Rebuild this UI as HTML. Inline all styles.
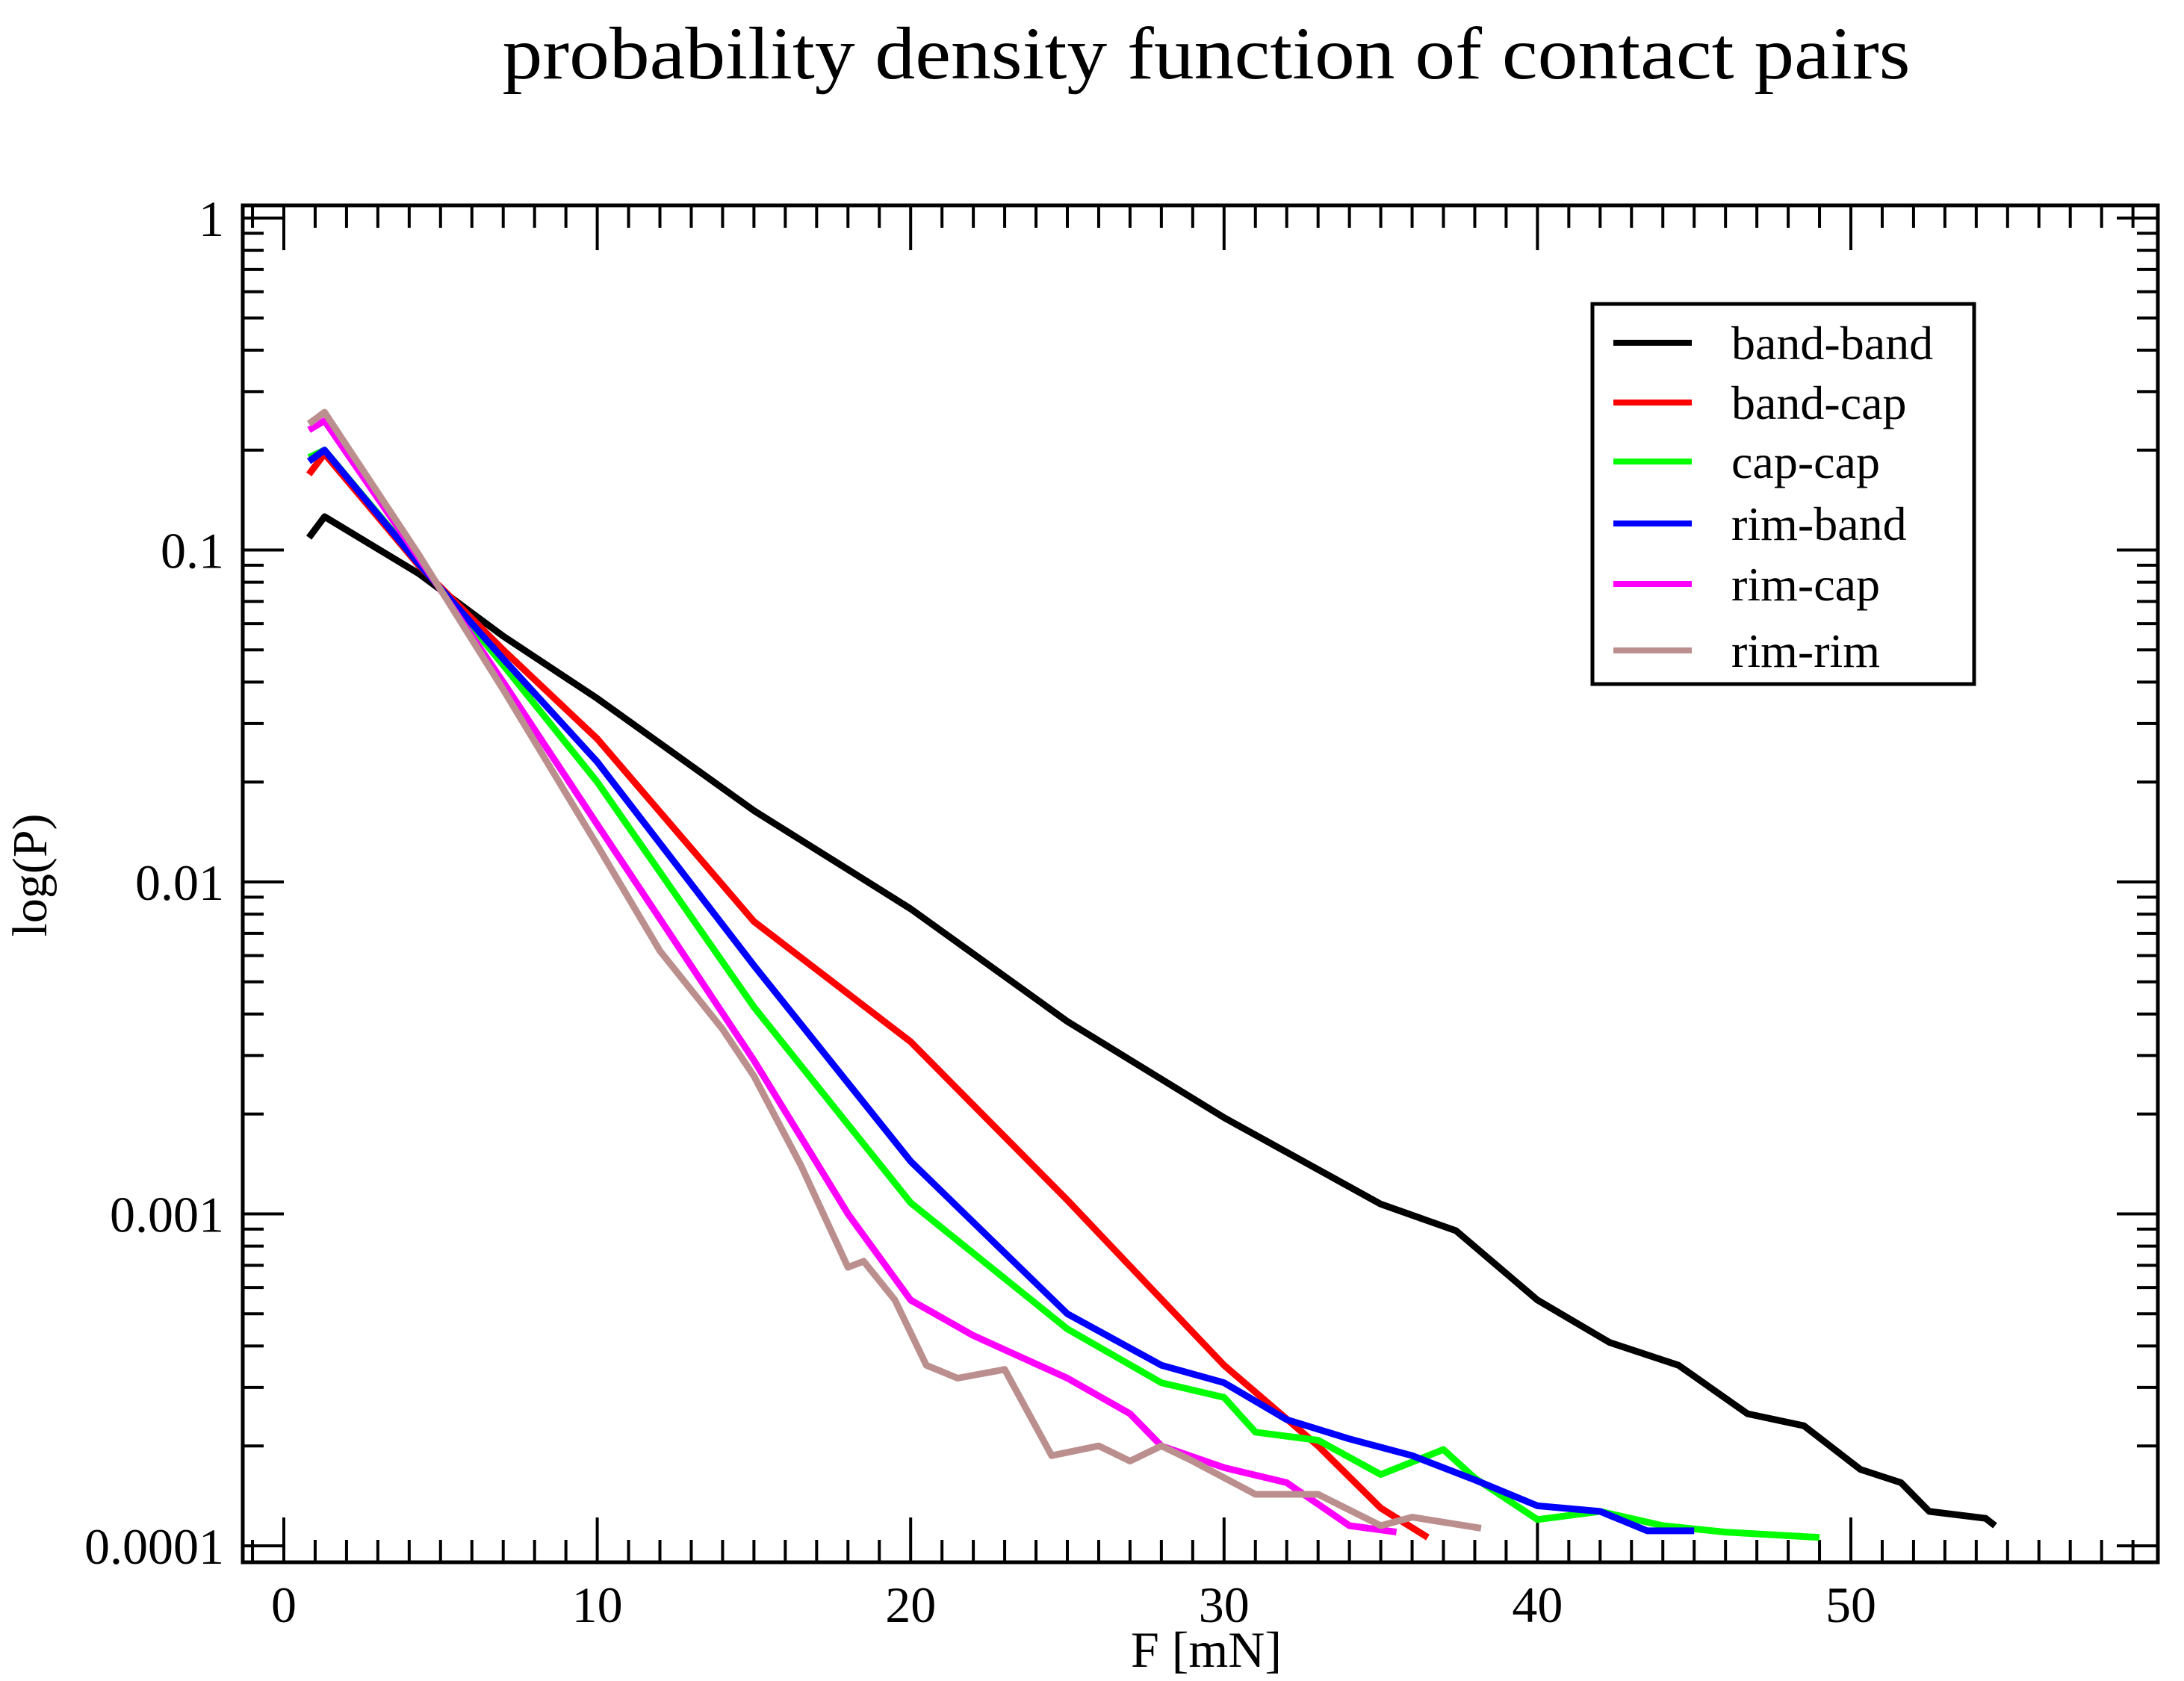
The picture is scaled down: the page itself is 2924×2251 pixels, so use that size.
<!DOCTYPE html>
<html><head><meta charset="utf-8"><style>
html,body{margin:0;padding:0;background:#fff;}
svg{display:block;}
text{font-family:"Liberation Serif",serif;}
</style></head><body>
<svg id="chart" width="2924" height="2251" viewBox="0 0 2924 2251" xmlns="http://www.w3.org/2000/svg">
<rect width="2924" height="2251" fill="#fff"/>
<text x="1615" y="105" font-size="100" text-anchor="middle" textLength="1885" lengthAdjust="spacingAndGlyphs">probability density function of contact pairs</text>
<g id="ticks"></g>
<g id="series"></g>
<rect x="325" y="275" width="2564" height="1817" fill="none" stroke="#000" stroke-width="5"/>
<text x="1615" y="2232" font-size="68" text-anchor="middle">F [mN]</text>
<text transform="translate(62,1172) rotate(-90)" font-size="66" text-anchor="middle">log(P)</text>
<g>
<rect x="2132" y="407" width="511" height="509" fill="#fff" stroke="#000" stroke-width="5"/>
<g id="legend-entries"></g>
</g>
</svg>
<script>
const xTicks=[0,10,20,30,40,50];
const yTicks=[1,0.1,0.01,0.001,0.0001];
const yTickLabels=["1","0.1","0.01","0.001","0.0001"];
const seriesNames=["band-band","band-cap","cap-cap","rim-band","rim-cap","rim-rim"];
const seriesColors=["#000000","#ff0000","#00ff00","#0000ff","#ff00ff","#bc8f8f"];
const xBandBand=[0.8,1.3,4.3,7,10,15,20,25,30,35,37.4,40,42.3,44.5,46.7,48.5,50.3,51.6,52.5,54.3,54.6];
const pBandBand=[0.109,0.126,0.085,0.055,0.0357,0.0164,0.0083,0.0038,0.00195,0.00107,0.00089,0.00055,0.00041,0.00035,0.00025,0.00023,0.00017,0.000155,0.000127,0.000121,0.000115];
const xBandCap=[0.8,1.3,4.3,7,10,15,20,25,30,33,35,36.5];
const pBandCap=[0.169,0.195,0.09,0.05,0.027,0.0076,0.0033,0.0011,0.00035,0.0002,0.00013,0.000106];
const xCapCap=[0.8,1.3,4.3,7,10,15,20,25,28,30,31,33,35,37,38,40,42,44,46,49];
const pCapCap=[0.19,0.2,0.092,0.045,0.020,0.0042,0.00108,0.00045,0.00031,0.00028,0.00022,0.000208,0.000164,0.000195,0.00016,0.00012,0.000127,0.000115,0.00011,0.000106];
const xRimBand=[0.8,1.3,4.3,7,10,15,20,25,28,30,32,34,36,38,40,42,43.5,45];
const pRimBand=[0.185,0.2,0.091,0.047,0.023,0.0056,0.00144,0.0005,0.00035,0.00031,0.00024,0.00021,0.000187,0.000158,0.000132,0.000127,0.000111,0.000111];
const xRimCap=[0.8,1.3,4.3,7,10,15,18,20,22,25,27,28,30,32,34,35.5];
const pRimCap=[0.23,0.245,0.095,0.04,0.0149,0.0029,0.001,0.00055,0.00043,0.00032,0.00025,0.0002,0.000172,0.000155,0.000115,0.00011];
const xRimRim=[0.8,1.3,4.3,7,10,12,14,15,16.5,18,18.5,19.5,20.5,21.5,23,24.5,26,27,28,29,31,33,35,36,38.2];
const pRimRim=[0.24,0.26,0.097,0.038,0.0129,0.0062,0.0036,0.0026,0.0014,0.00069,0.00072,0.00055,0.00035,0.00032,0.00034,0.000187,0.0002,0.00018,0.0002,0.00018,0.000143,0.000143,0.000115,0.000122,0.000113];
const allX=[xBandBand,xBandCap,xCapCap,xRimBand,xRimCap,xRimRim];
const allP=[pBandBand,pBandCap,pCapCap,pRimBand,pRimCap,pRimRim];

const NS="http://www.w3.org/2000/svg";
const X0=380,XS=41.96,Y1=292,DEC=444.5,L=325,R=2889,T=275,B=2092;
function sx(v){return X0+v*XS;}
function sy(p){return Y1-Math.log10(p)*DEC;}
function mk(tag,parent){const e=document.createElementNS(NS,tag);parent.appendChild(e);return e;}
const tg=document.getElementById('ticks');
for(let v=-1;v<=59;v++){
  const X=sx(v);if(X<L||X>R)continue;
  const len=(v%10===0)?60:30;
  for(const [y0,d] of [[B,-1],[T,1]]){
    const l=mk('line',tg);
    
    
    l.setAttribute('x1',X);l.setAttribute('x2',X);l.setAttribute('y1',y0);l.setAttribute('y2',y0+d*len);
    l.setAttribute('stroke','#000');l.setAttribute('stroke-width','4');
  }
}
xTicks.forEach(v=>{
  const t=mk('text',tg);
  
  
  t.setAttribute('x',sx(v));t.setAttribute('y',2172);t.setAttribute('font-size','68');t.setAttribute('text-anchor','middle');
  t.textContent=String(v);
});
for(let e=-4;e<=0;e++){
  for(let m=1;m<=9;m++){
    const p=m*Math.pow(10,e);const Y=sy(p);
    if(Y<T||Y>B)continue;
    const len=(m===1)?55:28;
    for(const [x0,d] of [[L,1],[R,-1]]){
      const l=mk('line',tg);
      
      
      l.setAttribute('x1',x0);l.setAttribute('x2',x0+d*len);l.setAttribute('y1',Y);l.setAttribute('y2',Y);
      l.setAttribute('stroke','#000');l.setAttribute('stroke-width','4');
    }
    if(e===0)break;
  }
}
yTicks.forEach((p,i)=>{
  const t=mk('text',tg);
  
  
  t.setAttribute('x',300);t.setAttribute('y',sy(p)+24);t.setAttribute('font-size','68');t.setAttribute('text-anchor','end');
  t.textContent=yTickLabels[i];
});
const sg=document.getElementById('series');
allX.forEach((xs,i)=>{
  const pl=mk('polyline',sg);
  
  
  pl.setAttribute('points',xs.map((x,j)=>sx(x).toFixed(1)+','+sy(allP[i][j]).toFixed(1)).join(' '));
  pl.setAttribute('fill','none');pl.setAttribute('stroke',seriesColors[i]);pl.setAttribute('stroke-width','9');
  pl.setAttribute('stroke-linejoin','round');
});
const lg=document.getElementById('legend-entries');
const rowY=[459,539,618,701,782,871];
seriesNames.forEach((n,i)=>{
  const l=mk('line',lg);
  
  
  l.setAttribute('x1',2160);l.setAttribute('x2',2265);l.setAttribute('y1',rowY[i]);l.setAttribute('y2',rowY[i]);
  l.setAttribute('stroke',seriesColors[i]);l.setAttribute('stroke-width','8');
  const t=mk('text',lg);
  
  
  t.setAttribute('x',2318);t.setAttribute('y',rowY[i]+22);t.setAttribute('font-size','64');
  t.setAttribute('font-family','Liberation Sans, sans-serif');
  t.textContent=n;
});
</script>
</body></html>
